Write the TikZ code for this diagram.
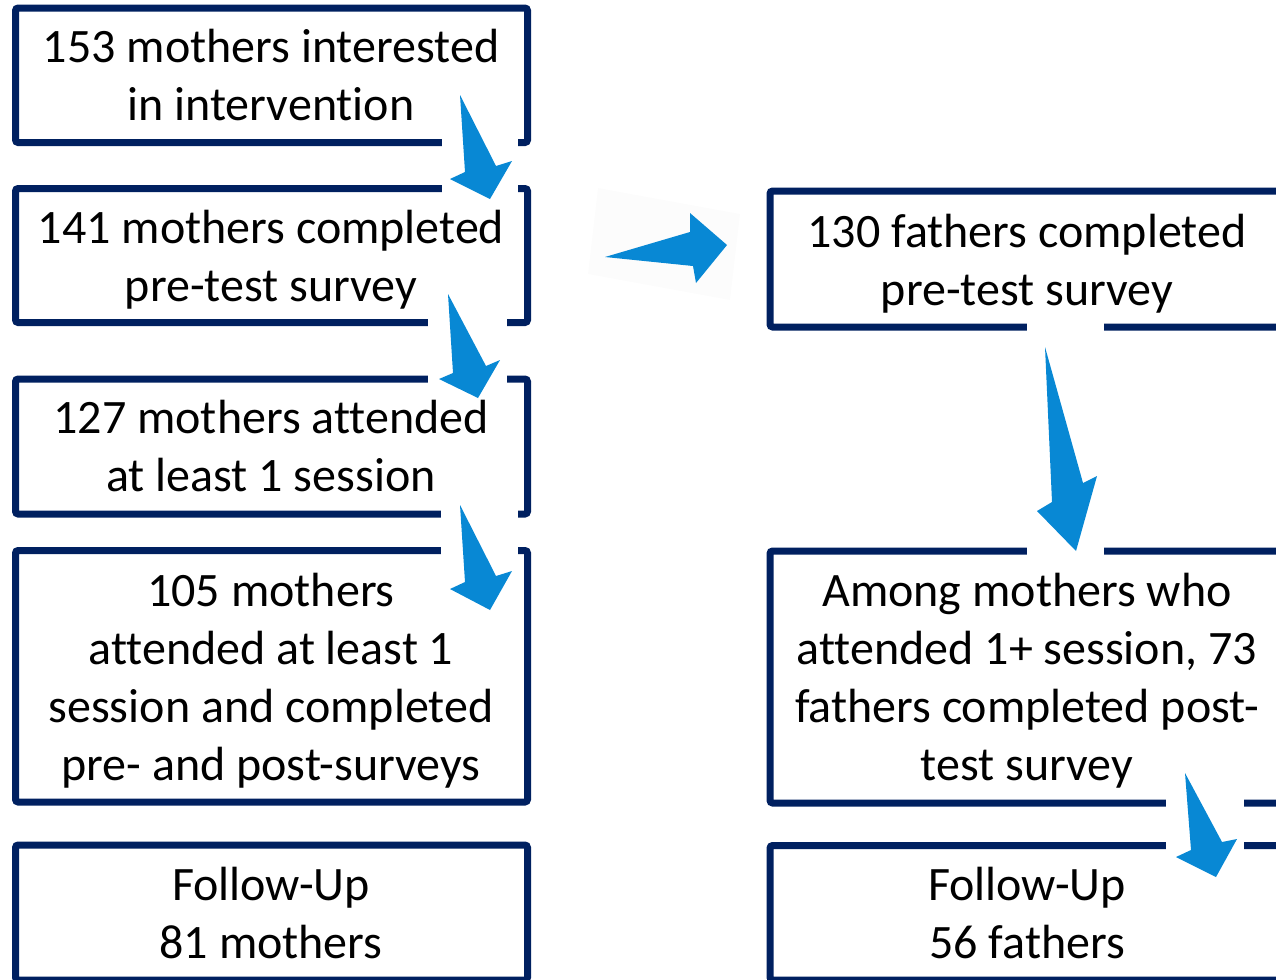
\documentclass[tikz,border=0pt]{standalone}
\usepackage{fontspec}
\setmainfont{Carlito}[Ligatures={NoCommon}]
\definecolor{navy}{RGB}{0,32,96}
\definecolor{arrowblue}{RGB}{8,136,212}
\tikzset{
  box/.style={draw=navy, line width=5.25pt, rounded corners=2pt},
  gapbox/.style={fill=white, draw=none},
  blockarrow/.style={fill=arrowblue, draw=none},
  boxtext/.style={anchor=base, inner sep=0pt, font=\fontsize{36pt}{43.5pt}\selectfont}
}
\begin{document}
\begin{tikzpicture}[x=0.75pt,y=-0.75pt]
\useasboundingbox (0,0) rectangle (1276,979);
\clip (0,0) rectangle (1276,979);

% left column boxes
\draw[box] (15.5,8) rectangle (527.5,142.5);
\draw[box] (15.5,188.5) rectangle (527.5,322.5);
\draw[box] (15.5,379) rectangle (527.5,514);
\draw[box] (15.5,550.5) rectangle (527.5,802);
\draw[box] (15.5,845) rectangle (527.5,980);
% right column boxes
\draw[box] (770,191) rectangle (1290,327);
\draw[box] (770,551) rectangle (1290,803);
\draw[box] (770,845.5) rectangle (1290,980);

% texts
\node[boxtext] (t1) at (271,62) {\begin{tabular}[t]{@{}c@{}}153 mothers interested\\in intervention\end{tabular}};
\node[boxtext] (t2) at (271,243) {\begin{tabular}[t]{@{}c@{}}141 mothers completed\\pre-test survey\end{tabular}};
\node[boxtext] (t3) at (271,433) {\begin{tabular}[t]{@{}c@{}}127 mothers attended\\at least 1 session\end{tabular}};
\node[boxtext] (t4) at (271,606) {\begin{tabular}[t]{@{}c@{}}105 mothers\\attended at least 1\\session and completed\\pre- and post-surveys\end{tabular}};
\node[boxtext] (t5) at (271,900) {\begin{tabular}[t]{@{}c@{}}Follow-Up\\81 mothers\end{tabular}};
\node[boxtext] (r1) at (1027,247) {\begin{tabular}[t]{@{}c@{}}130 fathers completed\\pre-test survey\end{tabular}};
\node[boxtext] (r2) at (1027,606) {\begin{tabular}[t]{@{}c@{}}Among mothers who\\attended 1+ session, 73\\fathers completed post-\\test survey\end{tabular}};
\node[boxtext] (r3) at (1027,900) {\begin{tabular}[t]{@{}c@{}}Follow-Up\\56 fathers\end{tabular}};

% white gaps behind arrows
\fill[gapbox] (442,134) rectangle (518,197);
\fill[gapbox] (428,315) rectangle (507,387);
\fill[gapbox] (441,506) rectangle (518,558);
\fill[gapbox] (1027,319) rectangle (1104,559);
\fill[gapbox] (1166,795) rectangle (1244,853);
\fill[black!1] (598,188) -- (740,214) -- (730,300) -- (588,274) -- cycle;

% block arrows
\fill[blockarrow] (460,95) -- (496,166) -- (512,161) -- (490,199) -- (450,179) -- (465,172) -- cycle;
\fill[blockarrow] (448,294) -- (486,366) -- (500,360) -- (478,398) -- (439,379) -- (453,373) -- cycle;
\fill[blockarrow] (460,505) -- (496,576) -- (512,571) -- (490,610) -- (450,589) -- (465,582) -- cycle;
\fill[blockarrow] (605,257) -- (690,232) -- (690,213) -- (727,245) -- (696,283) -- (693,266) -- cycle;
\fill[blockarrow] (1045,347) -- (1083,483) -- (1097,476) -- (1076,551) -- (1037,511) -- (1052,502) -- cycle;
\fill[blockarrow] (1185,773) -- (1222,842) -- (1237,839) -- (1216,877) -- (1176,857) -- (1191,850) -- cycle;
\end{tikzpicture}
\end{document}
